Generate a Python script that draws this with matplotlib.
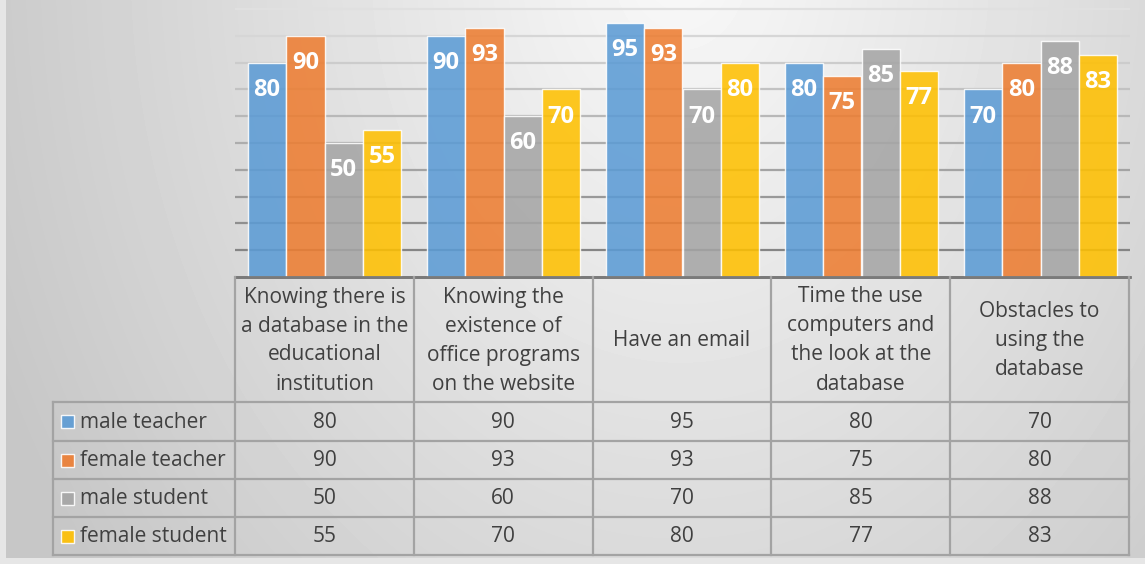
import numpy as np
import matplotlib
matplotlib.use("Agg")
import matplotlib.pyplot as plt
from matplotlib.patches import Rectangle

# ---------------- data ----------------
categories = [
    "Knowing there is\na database in the\neducational\ninstitution",
    "Knowing the\nexistence of\noffice programs\non the website",
    "Have an email",
    "Time the use\ncomputers and\nthe look at the\ndatabase",
    "Obstacles to\nusing the\ndatabase",
]
series_names = ["male teacher", "female teacher", "male student", "female student"]
male_teacher = [80, 90, 95, 80, 70]
female_teacher = [90, 93, 93, 75, 80]
male_student = [50, 60, 70, 85, 88]
female_student = [55, 70, 80, 77, 83]
series_values = [male_teacher, female_teacher, male_student, female_student]
colors = ["#5B9BD5", "#ED7D31", "#A5A5A5", "#FFC000"]

plt.rcParams['font.family'] = ['Open Sans', 'DejaVu Sans']

W, H = 1145, 564
fig = plt.figure(figsize=(W / 100, H / 100), dpi=100)

# ---------------- background (pixel space) ----------------
bg = fig.add_axes([0, 0, 1, 1])
bg.set_xlim(0, W)
bg.set_ylim(H, 0)
bg.axis("off")
bg.add_patch(Rectangle((0, 0), W, H, color="#e6e6e6", zorder=0))
yy, xx = np.mgrid[0:558, 6:W]
d = np.sqrt((xx - 680) ** 2 + ((yy + 40) / 1.3) ** 2)
img = np.clip(0.975 - 0.00026 * d, 0.78, 1.0)
bg.imshow(img, cmap="gray", vmin=0, vmax=1, extent=(6, W, 558, 0),
          aspect="auto", zorder=1, interpolation="bilinear")
bg.set_xlim(0, W)
bg.set_ylim(H, 0)

# ---------------- bar chart ----------------
x0, x1, ybase = 235, 1130, 277
ax = fig.add_axes([x0 / W, (H - ybase) / H, (x1 - x0) / W, ybase / H])
ax.patch.set_alpha(0)
n = len(categories)
ax.set_xlim(-0.5, n - 0.5)
ax.set_ylim(0, 103.4)
ax.set_yticks(np.arange(10, 101, 10))
ax.grid(axis="y", linewidth=1.6)
ax.set_axisbelow(True)
gls = ax.get_ygridlines()
for i, gl in enumerate(gls):
    t = i / (len(gls) - 1)  # 0 at value 10, 1 at value 100
    c = 0.52 + (0.88 - 0.52) * t
    gl.set_color((c, c, c))
ax.tick_params(left=False, bottom=False, labelleft=False, labelbottom=False)
for s in ["top", "right", "left"]:
    ax.spines[s].set_visible(False)
ax.spines["bottom"].set_color("#7a7a7a")
ax.spines["bottom"].set_linewidth(2)

bw = 0.2137
xs = np.arange(n)
for k, (vals, col) in enumerate(zip(series_values, colors)):
    pos = xs + (k - 1.5) * bw
    bars = ax.bar(pos, vals, width=bw, color=col, alpha=0.87,
                  edgecolor=(1, 1, 1, 0.45), linewidth=1.0, zorder=3)
    for b, v in zip(bars, vals):
        ax.annotate(f"{v}", (b.get_x() + b.get_width() / 2, v),
                    xytext=(0, -19.5), textcoords="offset points",
                    ha="center", va="center", color="white",
                    fontsize=17, fontweight="bold", zorder=5)

# ---------------- data table (pixel space) ----------------
tab = fig.add_axes([0, 0, 1, 1])
tab.set_xlim(0, W)
tab.set_ylim(H, 0)
tab.axis("off")
tab.patch.set_alpha(0)

col_edges = np.linspace(x0, 1129, n + 1)
row_edges = [277, 402, 440.5, 479, 517, 555]
lx = 53
lc = "#a3a3a3"
lw = 1.6
tab.plot([x0, col_edges[-1]], [row_edges[0]] * 2, color="#7a7a7a", lw=2)
for y in row_edges[1:]:
    tab.plot([lx, col_edges[-1]], [y, y], color=lc, lw=lw)
for xe in col_edges:
    tab.plot([xe, xe], [row_edges[0], row_edges[-1]], color=lc, lw=lw)
tab.plot([lx, lx], [row_edges[1], row_edges[-1]], color=lc, lw=lw)

txtc = "#404040"
fs = 15
hc = (row_edges[0] + row_edges[1]) / 2 + 1
for j, cat in enumerate(categories):
    lines = cat.split("\n")
    cx = (col_edges[j] + col_edges[j + 1]) / 2
    m = len(lines)
    for i, ln in enumerate(lines):
        y = hc + (i - (m - 1) / 2) * 29
        tab.text(cx, y, ln, ha="center", va="center", fontsize=fs, color=txtc)

for r, (name, vals, col) in enumerate(zip(series_names, series_values, colors)):
    cy = (row_edges[r + 1] + row_edges[r + 2]) / 2 + 1
    tab.add_patch(Rectangle((61, cy - 7), 13, 13, facecolor=col,
                            edgecolor=(1, 1, 1, 0.6), lw=1, alpha=0.9))
    tab.text(80, cy, name, ha="left", va="center", fontsize=fs, color=txtc)
    for j, v in enumerate(vals):
        cx = (col_edges[j] + col_edges[j + 1]) / 2
        tab.text(cx, cy, f"{v}", ha="center", va="center", fontsize=fs, color=txtc)

fig.savefig("out.png", dpi=100)
